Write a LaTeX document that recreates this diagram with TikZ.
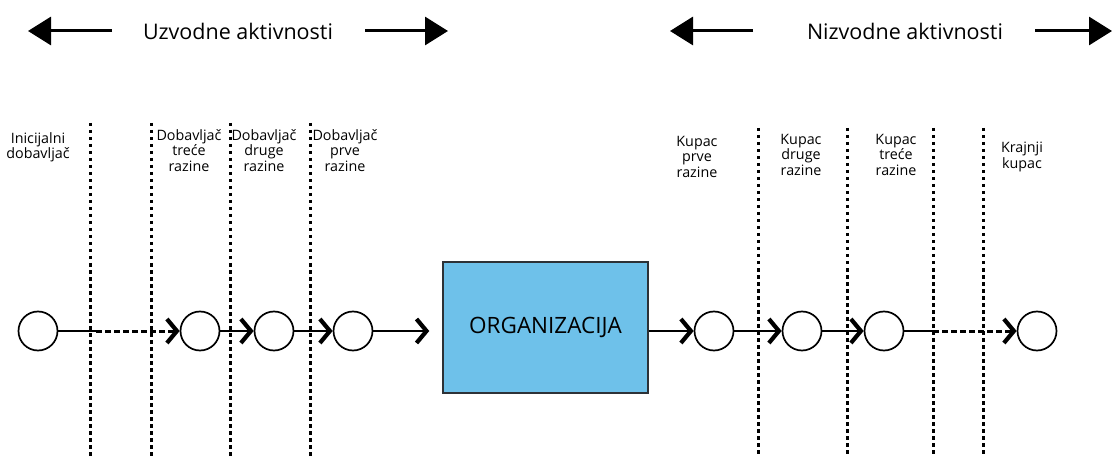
\documentclass[tikz,border=0pt]{standalone}
\usepackage{fontspec}
\setmainfont{Open Sans}
\usetikzlibrary{arrows.meta}
\definecolor{orgblue}{RGB}{110,193,234}
\definecolor{orgedge}{RGB}{45,50,55}
\begin{document}
\begin{tikzpicture}[x=1pt,y=-1pt,
  stage/.style={circle, draw, line width=1.7pt, minimum size=39pt, inner sep=0pt},
  lbl/.style={anchor=north, align=center, inner sep=0pt, font=\fontsize{14.3}{15.5}\selectfont},
  sep/.style={line width=3pt, dash pattern=on 3.5pt off 3.5pt},
  flow/.style={line width=2.2pt},
  dflow/.style={line width=3pt, dash pattern=on 6pt off 3pt},
  chev/.style={-{Straight Barb[length=10pt,width=24pt,line width=4.2pt]}},
  big/.style={line width=3pt, -{Triangle[length=23pt,width=28pt]}},
  hdr/.style={font=\fontsize{21.5}{25}\selectfont, inner sep=0pt}
]
\useasboundingbox (0,0) rectangle (1114,457);

% headers
\node[hdr] (up) at (238,31) {Uzvodne aktivnosti};
\node[hdr] (down) at (905,31) {Nizvodne aktivnosti};
\coordinate (ua) at (112,31); \coordinate (uat) at (28,31);
\coordinate (ub) at (365,31); \coordinate (ubt) at (448,31);
\coordinate (da) at (753,31); \coordinate (dat) at (670,31);
\coordinate (db) at (1035,31); \coordinate (dbt) at (1112,31);
\draw[big] (ua) -- (uat);
\draw[big] (ub) -- (ubt);
\draw[big] (da) -- (dat);
\draw[big] (db) -- (dbt);

% separators
\foreach \x/\t in {90/123,151/123,230/123,310/123,758/128,847/128,933/128,983/128}{
  \coordinate (s\x a) at (\x,\t);
  \coordinate (s\x b) at (\x,457);
  \draw[sep] (s\x a) -- (s\x b);
}

% labels
\node[lbl] (l1) at (38,132) {Inicijalni\\dobavljač};
\node[lbl] (l2) at (189,129) {Dobavljač\\treće\\razine};
\node[lbl] (l3) at (264,129) {Dobavljač\\druge\\razine};
\node[lbl] (l4) at (345,129) {Dobavljač\\prve\\razine};
\node[lbl] (l5) at (697,136) {Kupac\\prve\\razine};
\node[lbl] (l6) at (801,134) {Kupac\\druge\\razine};
\node[lbl] (l7) at (896,134) {Kupac\\treće\\razine};
\node[lbl] (l8) at (1022,142) {Krajnji\\kupac};

% stages
\node[stage] (c1) at (38,331) {};
\node[stage] (c2) at (200,331) {};
\node[stage] (c3) at (274,331) {};
\node[stage] (c4) at (353,331) {};
\node[draw=orgedge, fill=orgblue, line width=1.5pt, minimum width=205pt, minimum height=131pt,
      inner sep=0pt, font=\fontsize{22.5}{26}\selectfont] (org) at (545.5,327.5) {ORGANIZACIJA};
\node[stage] (c5) at (714,331) {};
\node[stage] (c6) at (802,331) {};
\node[stage] (c7) at (884,331) {};
\node[stage] (c8) at (1037,331) {};

% flows
\coordinate (m1) at (96,331);
\draw[flow] (c1.east) -- (m1);
\draw[dflow, chev] (m1) -- (c2.west);
\draw[flow, chev] (c2.east) -- (c3.west);
\draw[flow, chev] (c3.east) -- (c4.west);
\draw[flow, chev, shorten >=13pt] (c4.east) -- (org.west |- c4.west);
\draw[flow, chev] (org.east |- c5.west) -- (c5.west);
\draw[flow, chev] (c5.east) -- (c6.west);
\draw[flow, chev] (c6.east) -- (c7.west);
\coordinate (m2) at (933,331);
\draw[flow] (c7.east) -- (m2);
\draw[dflow, chev] (m2) -- (c8.west);
\end{tikzpicture}
\end{document}
